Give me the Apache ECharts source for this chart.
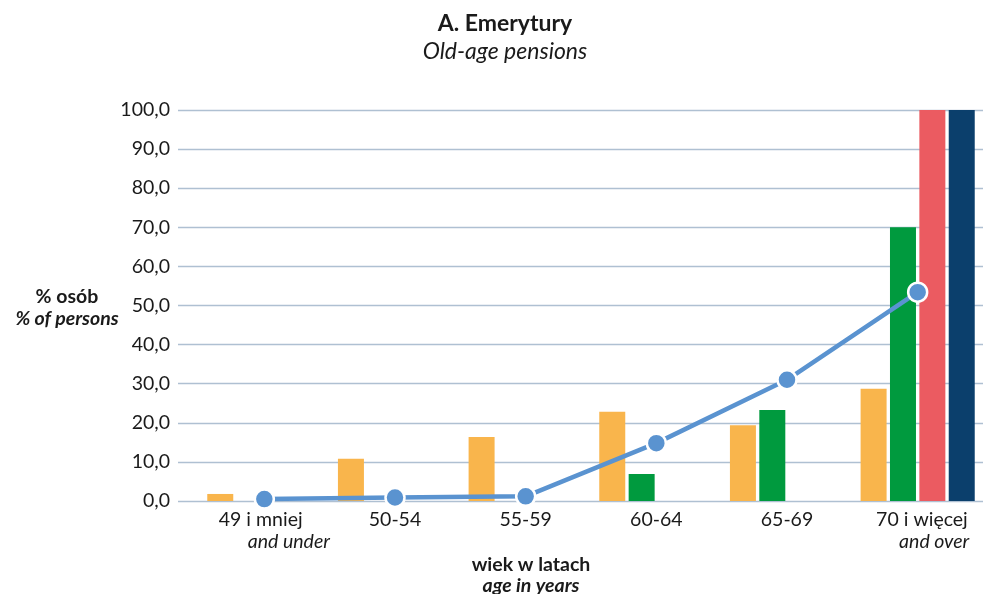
<!DOCTYPE html>
<html>
<head>
<meta charset="utf-8">
<script src="https://cdn.jsdelivr.net/npm/echarts@6/dist/echarts.min.js"></script>
<style>
html,body{margin:0;padding:0;background:#fff;}
#c{width:983px;height:594px;}
</style>
</head>
<body>
<div id="c"></div>
<script>
const categories = ['49 i mniej', '50-54', '55-59', '60-64', '65-69', '70 i więcej'];
const categoriesEn = ['and under', '', '', '', '', 'and over'];
const seriesA = [1.8, 10.8, 16.4, 22.8, 19.4, 28.7];
const seriesB = [0, 0, 0, 6.9, 23.3, 70.0];
const seriesC = [0, 0, 0, 0, 0, 100.0];
const seriesD = [0, 0, 0, 0, 0, 100.0];
const lineValues = [0.5, 0.9, 1.2, 14.8, 31.0, 53.4];
const yTicks = [0, 10, 20, 30, 40, 50, 60, 70, 80, 90, 100];

const FONT = 'Lato';
const FS = 19.5;
const chart = echarts.init(document.getElementById('c'), null, {renderer: 'canvas'});

function barSeries(data, color) {
  return {
    type: 'bar', xAxisIndex: 1, yAxisIndex: 1, data: data,
    barWidth: 26, barGap: '13%',
    itemStyle: {color: color},
    silent: true
  };
}

const option = {
  animation: false,
  backgroundColor: '#ffffff',
  textStyle: {fontFamily: FONT},
  title: {
    text: 'A. Emerytury',
    subtext: 'Old-age pensions',
    left: 500, top: 7, textAlign: 'center',
    itemGap: 5,
    textStyle: {fontFamily: FONT, fontWeight: 'bold', fontSize: 23, color: '#1a1a1a'},
    subtextStyle: {fontFamily: FONT, fontStyle: 'italic', fontSize: 23, color: '#1a1a1a'}
  },
  grid: [
    {left: 178, right: 0, top: 110, bottom: 93},
    {left: 199, right: 0, top: 110, bottom: 93}
  ],
  xAxis: [
    {gridIndex: 0, type: 'category', data: categories, show: false},
    {
      gridIndex: 1, type: 'category', data: categories,
      axisLine: {show: false}, axisTick: {show: false},
      axisLabel: {
        margin: 8,
        interval: 0,
        formatter: function (v, i) {
          if (i === 0) return '{a1|' + v + '}\n{b1|' + categoriesEn[i] + '}';
          if (i === 5) return '{a6|' + v + '}\n{b6|' + categoriesEn[i] + '}';
          return '{n|' + v + '}';
        },
        rich: {
          n: {fontFamily: FONT, fontSize: FS, color: '#1a1a1a', lineHeight: 22},
          a1: {fontFamily: FONT, fontSize: FS, color: '#1a1a1a', lineHeight: 22, align: 'left', padding: [0, 0, 0, 20]},
          b1: {fontFamily: FONT, fontSize: FS, fontStyle: 'italic', color: '#1a1a1a', lineHeight: 22, align: 'left', padding: [0, 0, 0, 49]},
          a6: {fontFamily: FONT, fontSize: FS, color: '#1a1a1a', lineHeight: 22, align: 'left', padding: [0, 0, 0, 10]},
          b6: {fontFamily: FONT, fontSize: FS, fontStyle: 'italic', color: '#1a1a1a', lineHeight: 22, align: 'left', padding: [0, 0, 0, 33]}
        }
      }
    }
  ],
  yAxis: [
    {
      gridIndex: 0, type: 'value', min: yTicks[0], max: yTicks[yTicks.length - 1], interval: 10,
      axisLine: {show: false}, axisTick: {show: false},
      axisLabel: {
        margin: 8, fontFamily: FONT, fontSize: FS, color: '#1a1a1a',
        formatter: function (v) { return v.toFixed(1).replace('.', ','); }
      },
      splitLine: {show: true, lineStyle: {color: '#AFC0D2', width: 1.3}}
    },
    {gridIndex: 1, type: 'value', min: 0, max: 100, show: false, splitLine: {show: false}}
  ],
  graphic: [
    {
      type: 'text', x: 67, y: 308,
      style: {
        text: '{a|% osób}\n{b|% of persons}',
        align: 'center', verticalAlign: 'middle',
        rich: {
          a: {fontFamily: FONT, fontWeight: 'bold', fontSize: FS, lineHeight: 22, fill: '#1a1a1a', align: 'center'},
          b: {fontFamily: FONT, fontWeight: 'bold', fontStyle: 'italic', fontSize: FS, lineHeight: 22, fill: '#1a1a1a', align: 'center'}
        }
      }
    },
    {
      type: 'text', x: 531, y: 575,
      style: {
        text: '{a|wiek w latach}\n{b|age in years}',
        align: 'center', verticalAlign: 'middle',
        rich: {
          a: {fontFamily: FONT, fontWeight: 'bold', fontSize: FS, lineHeight: 21, fill: '#1a1a1a', align: 'center'},
          b: {fontFamily: FONT, fontWeight: 'bold', fontStyle: 'italic', fontSize: FS, lineHeight: 21, fill: '#1a1a1a', align: 'center'}
        }
      }
    }
  ],
  series: [
    barSeries(seriesA, '#F9B54C'),
    barSeries(seriesB, '#009A3E'),
    barSeries(seriesC, '#EB5B61'),
    barSeries(seriesD, '#0B3F6C'),
    {
      type: 'line', xAxisIndex: 1, yAxisIndex: 1, data: lineValues,
      symbol: 'circle', symbolSize: 19,
      lineStyle: {color: '#5A93D0', width: 4.5},
      itemStyle: {color: '#5A93D0', borderColor: '#ffffff', borderWidth: 2.5},
      z: 5, silent: true
    }
  ]
};
chart.setOption(option);
</script>
</body>
</html>
